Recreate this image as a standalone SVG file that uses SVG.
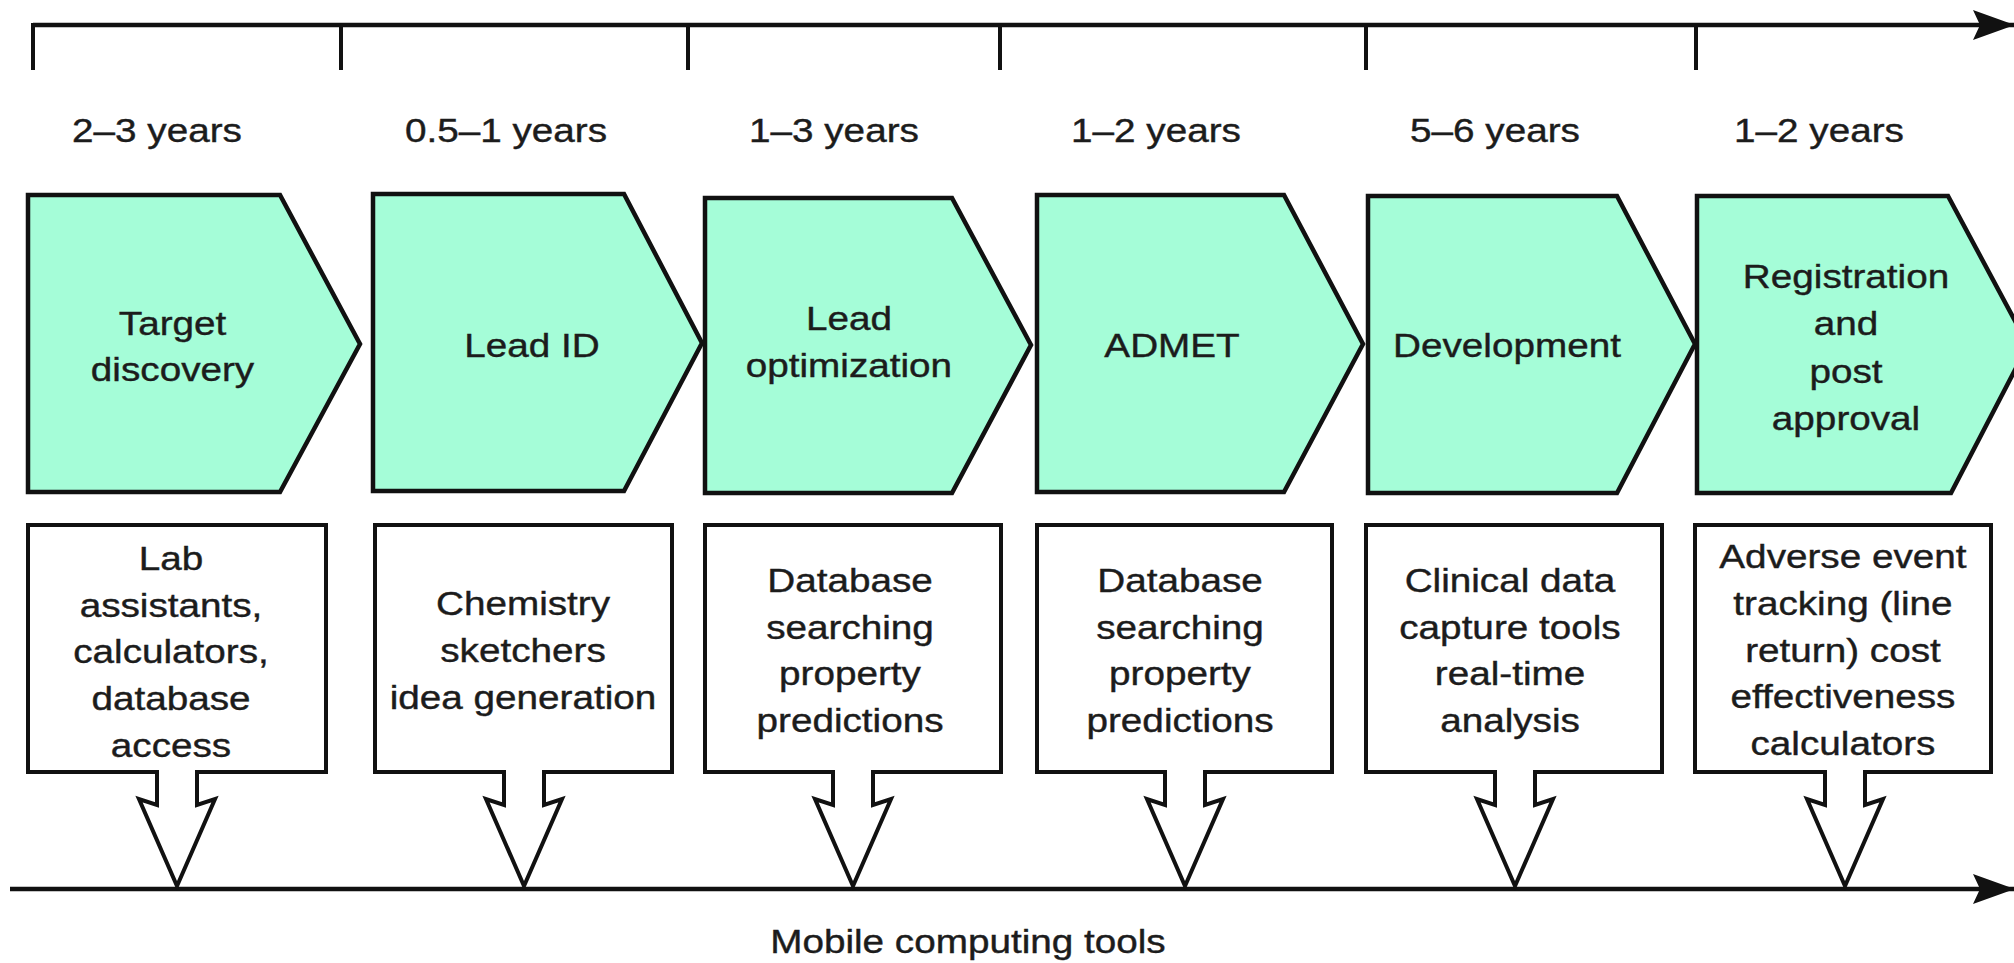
<svg xmlns="http://www.w3.org/2000/svg" width="2014" height="963" viewBox="0 0 2014 963">
<style>
.bg{fill:#ffffff}
.ph{fill:#a5fdd8;stroke:#111;stroke-width:4.5;stroke-linejoin:miter}
.bx{fill:#ffffff;stroke:#111;stroke-width:4;stroke-linejoin:miter}
.ln{fill:none;stroke:#111;stroke-width:4.5}
.tk{fill:none;stroke:#111;stroke-width:4}
.t{font-family:"Liberation Sans",Arial,Helvetica,sans-serif;font-size:32.5px;fill:#1c1c1c;stroke:#1c1c1c;stroke-width:0.4;text-anchor:middle}
</style>
<defs>
<marker id="ah" viewBox="0 0 42 30" refX="41" refY="15" markerWidth="42" markerHeight="30" orient="auto" markerUnits="userSpaceOnUse">
<path d="M0,0 L42,15 L0,30 L7,15 Z" fill="#111"/>
</marker>
</defs>
<rect class="bg" x="0" y="0" width="2014" height="963"/>

<g id="connectors">
<line class="ln" x1="33" y1="25" x2="2014" y2="25" marker-end="url(#ah)"/>
<line class="tk" x1="33" y1="23" x2="33" y2="70"/>
<line class="tk" x1="341" y1="25" x2="341" y2="70"/>
<line class="tk" x1="688" y1="25" x2="688" y2="70"/>
<line class="tk" x1="1000" y1="25" x2="1000" y2="70"/>
<line class="tk" x1="1366" y1="25" x2="1366" y2="70"/>
<line class="tk" x1="1696" y1="25" x2="1696" y2="70"/>
<line class="ln" x1="10" y1="889" x2="2014" y2="889" marker-end="url(#ah)"/>
</g>

<g id="durations">
<text class="t" transform="scale(1.19 1)" x="131.9" y="142">2–3 years</text>
<text class="t" transform="scale(1.19 1)" x="425.2" y="142">0.5–1 years</text>
<text class="t" transform="scale(1.19 1)" x="700.8" y="142">1–3 years</text>
<text class="t" transform="scale(1.19 1)" x="971.4" y="142">1–2 years</text>
<text class="t" transform="scale(1.19 1)" x="1256.3" y="142">5–6 years</text>
<text class="t" transform="scale(1.19 1)" x="1528.6" y="142">1–2 years</text>
</g>

<g id="stage-target-discovery">
<path class="ph" d="M28 195 H280 L360 344 L280 492 H28 Z"/>
<text class="t" transform="scale(1.19 1)"><tspan x="145" y="335">Target</tspan><tspan x="145" y="381">discovery</tspan></text>
</g>
<g id="stage-lead-id">
<path class="ph" d="M373 194 H624 L702 343 L624 491 H373 Z"/>
<text class="t" transform="scale(1.19 1)" x="447.1" y="357">Lead ID</text>
</g>
<g id="stage-lead-optimization">
<path class="ph" d="M705 198 H952 L1031 345 L952 493 H705 Z"/>
<text class="t" transform="scale(1.19 1)"><tspan x="713.4" y="330">Lead</tspan><tspan x="713.4" y="377">optimization</tspan></text>
</g>
<g id="stage-admet">
<path class="ph" d="M1037 195 H1284 L1363 344 L1284 492 H1037 Z"/>
<text class="t" transform="scale(1.19 1)" x="984.9" y="357">ADMET</text>
</g>
<g id="stage-development">
<path class="ph" d="M1368 196 H1617 L1695 344 L1617 493 H1368 Z"/>
<text class="t" transform="scale(1.19 1)" x="1266.4" y="357">Development</text>
</g>
<g id="stage-registration">
<path class="ph" d="M1697 196 H1948 L2028 345 L1951 493 H1697 Z"/>
<text class="t" transform="scale(1.19 1)"><tspan x="1551.3" y="288">Registration</tspan><tspan x="1551.3" y="335">and</tspan><tspan x="1551.3" y="383">post</tspan><tspan x="1551.3" y="430">approval</tspan></text>
</g>

<g id="tools-target-discovery">
<path class="bx" d="M28 525 H326 V772 H197 V805 L215 799 L177 886 L139 799 L157 805 V772 H28 Z"/>
<text class="t" transform="scale(1.19 1)"><tspan x="143.7" y="570">Lab</tspan><tspan x="143.7" y="617">assistants,</tspan><tspan x="143.7" y="663">calculators,</tspan><tspan x="143.7" y="710">database</tspan><tspan x="143.7" y="757">access</tspan></text>
</g>
<g id="tools-lead-id">
<path class="bx" d="M375 525 H672 V772 H544 V805 L562 799 L524 886 L486 799 L504 805 V772 H375 Z"/>
<text class="t" transform="scale(1.19 1)"><tspan x="439.5" y="615">Chemistry</tspan><tspan x="439.5" y="662">sketchers</tspan><tspan x="439.5" y="709">idea generation</tspan></text>
</g>
<g id="tools-lead-optimization">
<path class="bx" d="M705 525 H1001 V772 H873 V805 L891 799 L853 886 L815 799 L833 805 V772 H705 Z"/>
<text class="t" transform="scale(1.19 1)"><tspan x="714.3" y="592">Database</tspan><tspan x="714.3" y="639">searching</tspan><tspan x="714.3" y="685">property</tspan><tspan x="714.3" y="732">predictions</tspan></text>
</g>
<g id="tools-admet">
<path class="bx" d="M1037 525 H1332 V772 H1205 V805 L1223 799 L1185 886 L1147 799 L1165 805 V772 H1037 Z"/>
<text class="t" transform="scale(1.19 1)"><tspan x="991.6" y="592">Database</tspan><tspan x="991.6" y="639">searching</tspan><tspan x="991.6" y="685">property</tspan><tspan x="991.6" y="732">predictions</tspan></text>
</g>
<g id="tools-development">
<path class="bx" d="M1366 525 H1662 V772 H1535 V805 L1553 799 L1515 886 L1477 799 L1495 805 V772 H1366 Z"/>
<text class="t" transform="scale(1.19 1)"><tspan x="1268.9" y="592">Clinical data</tspan><tspan x="1268.9" y="639">capture tools</tspan><tspan x="1268.9" y="685">real-time</tspan><tspan x="1268.9" y="732">analysis</tspan></text>
</g>
<g id="tools-registration">
<path class="bx" d="M1695 525 H1991 V772 H1865 V805 L1883 799 L1845 886 L1807 799 L1825 805 V772 H1695 Z"/>
<text class="t" transform="scale(1.19 1)"><tspan x="1548.7" y="568">Adverse event</tspan><tspan x="1548.7" y="615">tracking (line</tspan><tspan x="1548.7" y="662">return) cost</tspan><tspan x="1548.7" y="708">effectiveness</tspan><tspan x="1548.7" y="755">calculators</tspan></text>
</g>

<g id="axis-label">
<text class="t" transform="scale(1.19 1)" x="813.4" y="953">Mobile computing tools</text>
</g>
</svg>
